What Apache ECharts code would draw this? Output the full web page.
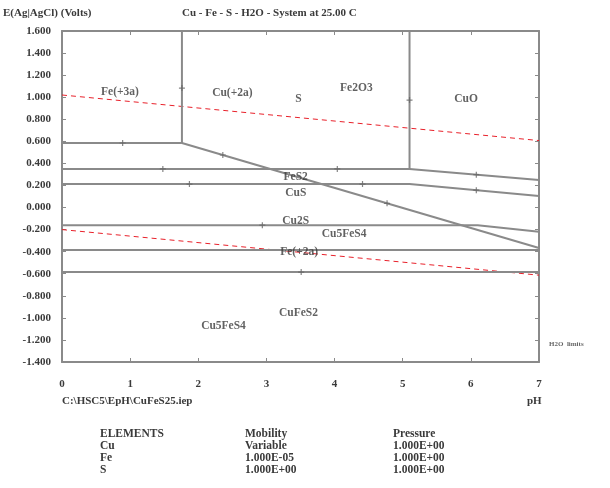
<!DOCTYPE html>
<html><head><meta charset="utf-8">
<script src="https://cdn.jsdelivr.net/npm/echarts@6/dist/echarts.min.js"></script>
<style>html,body{margin:0;padding:0;background:#fff}#c{width:610px;height:488px}</style>
</head><body><div id="c"></div>
<script>
// ---- data ----
const xTicks = [0,1,2,3,4,5,6,7];
const yMin = -1.4, yMax = 1.6, yStep = 0.2;
const boundaryLines = [
  [[1.76,1.6],[1.76,0.585]],
  [[5.1,1.6],[5.1,0.35]],
  [[0,0.585],[1.76,0.585]],
  [[1.76,0.585],[7,-0.367]],
  [[0,0.35],[5.1,0.35],[7,0.25]],
  [[0,0.213],[5.1,0.213],[7,0.104]],
  [[0,-0.16],[6.1,-0.16],[7,-0.22]],
  [[0,-0.386],[7,-0.386]],
  [[0,-0.585],[7,-0.585]]
];
const waterLines = [
  [[0,1.02],[7,0.607]],
  [[0,-0.20],[7,-0.613]]
];
const lineMarkers = [
  [1.76,1.083],[5.1,0.974],[0.89,0.585],[1.48,0.35],[1.87,0.213],
  [2.36,0.476],[4.04,0.35],[4.41,0.213],[4.77,0.038],[6.08,0.298],
  [6.08,0.157],[2.94,-0.16],[3.51,-0.585]
];
const regionLabels = [
  [0.85,1.047,'Fe(+3a)'],
  [2.5,1.04,'Cu(+2a)'],
  [3.47,0.98,'S'],
  [4.32,1.08,'Fe2O3'],
  [5.93,0.98,'CuO'],
  [3.43,0.28,'FeS2'],
  [3.43,0.13,'CuS'],
  [3.43,-0.12,'Cu2S'],
  [4.14,-0.24,'Cu5FeS4'],
  [3.48,-0.40,'Fe(+2a)'],
  [3.47,-0.957,'CuFeS2'],
  [2.37,-1.075,'Cu5FeS4']
];
const tableHeader = ['ELEMENTS','Mobility','Pressure'];
const tableRows = [
  ['Cu','Variable','1.000E+00'],
  ['Fe','1.000E-05','1.000E+00'],
  ['S','1.000E+00','1.000E+00']
];

const chart = echarts.init(document.getElementById('c'));
const font = '"Liberation Serif", "DejaVu Serif", serif';
const txtColor = '#3a3a3a';
const lineColor = '#8a8a8a';

const series = [];
boundaryLines.forEach(d => series.push({
  type:'line', data:d, symbol:'none', xAxisIndex:0, yAxisIndex:0,
  lineStyle:{color:lineColor, width:2}, silent:true, z:3
}));
waterLines.forEach(d => series.push({
  type:'line', data:d, symbol:'none', xAxisIndex:0, yAxisIndex:0,
  lineStyle:{color:'#e8202a', width:1, type:[5,4]}, silent:true, z:2
}));
series.push({
  type:'scatter', data:lineMarkers, xAxisIndex:0, yAxisIndex:0, z:4, silent:true,
  symbol:'path://M4,0H6V4H10V6H6V10H4V6H0V4H4Z', symbolSize:6,
  itemStyle:{color:'#666'}
});
series.push({
  type:'scatter', symbolSize:0, xAxisIndex:0, yAxisIndex:0, z:5,
  data: regionLabels.map(r => ({value:[r[0],r[1]], name:r[2]})),
  label:{show:true, position:'inside', formatter:p=>p.name,
    fontFamily:font, fontSize:11.5, fontWeight:'bold', color:txtColor}
});

const graphics = [
  {type:'text', left:3, top:8, style:{text:'E(Ag|AgCl) (Volts)', font:'bold 11px '+font, fill:txtColor}},
  {type:'text', left:182, top:8, style:{text:'Cu - Fe - S - H2O - System at 25.00 C', font:'bold 11px '+font, fill:txtColor}},
  {type:'text', left:62, top:396, style:{text:'C:\\HSC5\\EpH\\CuFeS25.iep', font:'bold 11px '+font, fill:txtColor}},
  {type:'text', left:527, top:396, style:{text:'pH', font:'bold 11px '+font, fill:txtColor}},
  {type:'text', left:549, top:341, style:{text:'H2O  limits', font:'bold 7px '+font, fill:'#666'}}
];
const colX = [100, 245, 393];
[tableHeader].concat(tableRows).forEach((row,i) => {
  row.forEach((t,j) => graphics.push({type:'text', left:colX[j], top:428+i*12,
    style:{text:t, font:'bold 11.5px '+font, fill:txtColor}}));
});

const axisLine = {show:true, onZero:false, lineStyle:{color:lineColor, width:2}};
chart.setOption({
  animation:false,
  grid:{left:62, right:71, top:31, bottom:126},
  xAxis:[
    {type:'value', min:0, max:7, interval:1, position:'bottom',
     axisLine:axisLine, splitLine:{show:false},
     axisTick:{inside:true, length:4, lineStyle:{color:lineColor}},
     axisLabel:{margin:17, fontFamily:font, fontSize:11, fontWeight:'bold', color:txtColor}},
    {type:'value', min:0, max:7, interval:1, position:'top',
     axisLine:axisLine, splitLine:{show:false},
     axisTick:{inside:true, length:4, lineStyle:{color:lineColor}}, axisLabel:{show:false}}
  ],
  yAxis:[
    {type:'value', min:yMin, max:yMax, interval:yStep, position:'left',
     axisLine:axisLine, splitLine:{show:false},
     axisTick:{inside:true, length:4, lineStyle:{color:lineColor}},
     axisLabel:{margin:11, fontFamily:font, fontSize:11, fontWeight:'bold', color:txtColor,
       formatter:v=>v.toFixed(3)}},
    {type:'value', min:yMin, max:yMax, interval:yStep, position:'right',
     axisLine:axisLine, splitLine:{show:false},
     axisTick:{inside:true, length:4, lineStyle:{color:lineColor}}, axisLabel:{show:false}}
  ],
  series:series,
  graphic:graphics
});
</script></body></html>
